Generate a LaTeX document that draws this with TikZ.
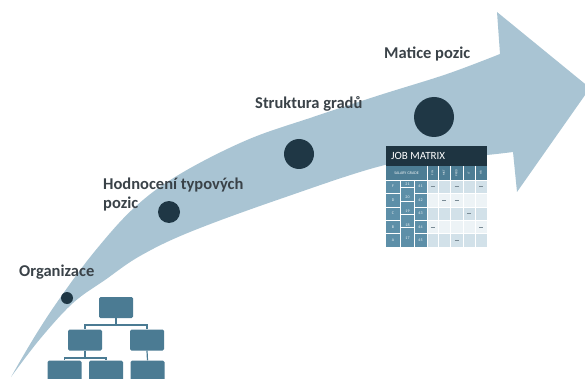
\documentclass[tikz,border=0pt]{standalone}
\usepackage{fontspec}
\setmainfont{Carlito}
\definecolor{arrowc}{HTML}{A9C4D3}
\definecolor{dotc}{HTML}{1F3745}
\definecolor{txtc}{HTML}{3A4248}
\definecolor{orgc}{HTML}{4B7B93}
\definecolor{hdrc}{HTML}{1E3441}
\definecolor{subc}{HTML}{4D7D94}
\definecolor{leftc}{HTML}{5D8FA8}
\definecolor{rowa}{HTML}{D2E1E9}
\definecolor{rowb}{HTML}{EDF3F6}
\definecolor{markc}{HTML}{7A8B95}
\begin{document}
\begin{tikzpicture}[x=1pt,y=-1pt,
  lbl/.style={font=\bfseries\fontsize{16.5}{19}\selectfont, text=txtc, anchor=west, inner sep=0pt, align=left},
  stepdot/.style={circle, fill=dotc, inner sep=0pt, minimum size=#1},
  orgbox/.style={fill=orgc, rounded corners=1.5pt, minimum width=34pt, minimum height=21pt, inner sep=0pt},
  orgline/.style={draw=orgc, line width=1.2pt},
  cellmark/.style={draw=markc, line width=0.8pt},
  tinytxt/.style={font=\fontsize{4}{4}\selectfont, text=white!90!subc, inner sep=0pt},
  gridline/.style={draw=white, line width=0.5pt}]
\useasboundingbox (0,0) rectangle (585,379);
\clip (0,0) rectangle (585,379);

% curved arrow
\fill[arrowc] plot[smooth,tension=0.6] coordinates {(11,377) (35,336) (60,298) (95,251) (135,207) (180,174) (247,140) (313,117) (380,95) (447,74) (500,54)}
  -- (497,12) -- (590,88) -- (517,192) -- (513,152)
  -- plot[smooth,tension=0.6] coordinates {(513,152) (487,155) (450,158) (385,165) (280,199) (190,232) (140,256) (105,280) (73,303) (40,339) (11,377)} -- cycle;

% dots
\node[stepdot=12pt] (d1) at (67,298) {};
\node[stepdot=22pt] (d2) at (169,212) {};
\node[stepdot=30pt] (d3) at (299,154) {};
\node[stepdot=40pt] (d4) at (434,117) {};

% labels
\node[lbl] (l1) at (19,272) {Organizace};
\node[lbl] (l2) at (103,195) {Hodnocení typových\\pozic};
\node[lbl] (l3) at (255,104) {Struktura gradů};
\node[lbl] (l4) at (384,54) {Matice pozic};

% org chart
\node[orgbox] (t) at (116,307.5) {};
\node[orgbox] (ml) at (85,340) {};
\node[orgbox] (mr) at (147,340) {};
\node[orgbox] (b1) at (64.5,371) {};
\node[orgbox] (b2) at (106,371) {};
\node[orgbox] (b3) at (147.5,371) {};
\coordinate (j1) at (116,325);
\coordinate (j2) at (85,358);
\draw[orgline] (t.south) -- (j1) -| (ml.north);
\draw[orgline] (j1) -| (mr.north);
\draw[orgline] (ml.south) -- (j2) -| (b1.north);
\draw[orgline] (j2) -| (b2.north);
\draw[orgline] (mr.south) -- (b3.north);

% job matrix table
\fill[hdrc] (386,146) rectangle (487,166);
\node[font=\fontsize{11}{12}\selectfont, text=white, anchor=west, inner sep=0pt] (jm) at (391,156) {JOB MATRIX};
\fill[subc] (386,166) rectangle (487,180);
\node[tinytxt] (sg) at (406.5,173) {SALARY GRADE};
\foreach \x/\t in {432.5/FIN,444/MKT,456.5/PROD,469/IT,481/HR}
  \node[tinytxt, rotate=90, font=\fontsize{3}{3}\selectfont] at (\x,173) {\t};
\fill[leftc] (386,180) rectangle (427,247);
\foreach \i in {0,...,4}{
  \pgfmathsetmacro{\ya}{180+\i*13.4}
  \pgfmathsetmacro{\yb}{180+(\i+1)*13.4}
  \ifodd\i \fill[rowb] (427,\ya) rectangle (487,\yb); \else \fill[rowa] (427,\ya) rectangle (487,\yb); \fi
}
\draw[gridline] (400.5,180) -- (400.5,247) (414,180) -- (414,247) (427,166) -- (427,247);
\foreach \x in {438,450,463,475} \draw[gridline] (\x,166) -- (\x,247);
\foreach \i in {1,...,4}{
  \draw[gridline] (386,{180+\i*13.4}) -- (400.5,{180+\i*13.4});
  \draw[gridline] (414,{180+\i*13.4}) -- (487,{180+\i*13.4});
  \draw[gridline] (400.5,{180+\i*13.4-6}) -- (414,{180+\i*13.4-6});
}
\draw[gridline] (386,180) -- (487,180);
\foreach \l/\i in {F/0,D/1,C/2,B/3,A/4}
  \node[tinytxt] at (393,{186.7+\i*13.4}) {\l};
\foreach \n/\i in {41/0,42/1,43/2,44/3,45/4}
  \node[tinytxt] at (420.5,{186.7+\i*13.4}) {\n};
\foreach \n/\i in {21/0,20/1,19/2,18/3,17/4}
  \node[tinytxt] at (407.5,{184+\i*13.6}) {\n};
\foreach \x/\r in {432.5/1,456.5/1,481/1,444/2,456.5/2,469/3,432.5/4,481/4,456.5/5}
  \draw[cellmark] ({\x-2},{180+(\r-0.5)*13.4}) -- ++(4,0);
\end{tikzpicture}
\end{document}
